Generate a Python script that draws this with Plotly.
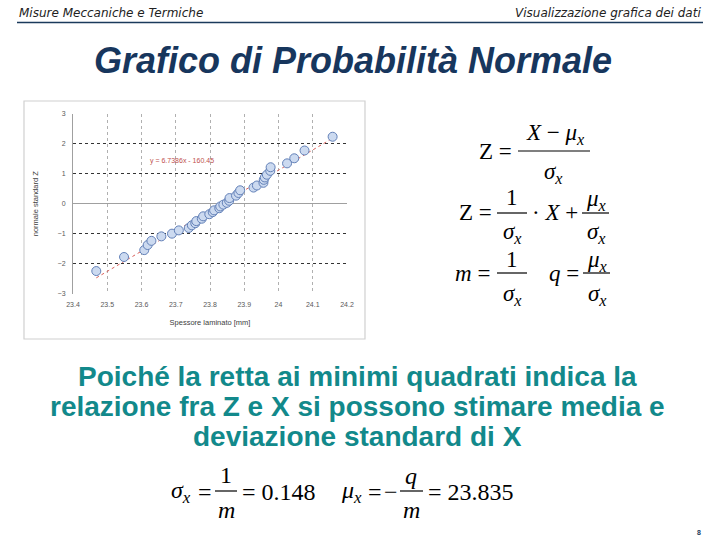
import numpy as np
import plotly.graph_objects as go

# ---- data ----
spessore = [23.468, 23.549, 23.608, 23.618, 23.629, 23.658, 23.689, 23.709, 23.738, 23.747,
            23.757, 23.760, 23.776, 23.780, 23.798, 23.808, 23.812, 23.827, 23.830, 23.839,
            23.849, 23.856, 23.857, 23.876, 23.883, 23.888, 23.927, 23.937, 23.956, 23.957,
            23.960, 23.966, 23.976, 23.977, 24.025, 24.046, 24.076, 24.158]
z_norm = [-2.25, -1.78, -1.55, -1.38, -1.24, -1.09, -1.00, -0.89, -0.81, -0.72,
          -0.65, -0.58, -0.50, -0.42, -0.35, -0.28, -0.22, -0.15, -0.09, -0.03,
          0.03, 0.10, 0.19, 0.27, 0.36, 0.45, 0.54, 0.61, 0.70, 0.80,
          0.88, 0.97, 1.10, 1.22, 1.35, 1.52, 1.78, 2.24]
x_ticks = [23.4, 23.5, 23.6, 23.7, 23.8, 23.9, 24.0, 24.1, 24.2]
x_ticklabels = ["23.4", "23.5", "23.6", "23.7", "23.8", "23.9", "24", "24.1", "24.2"]
y_ticks = [-3, -2, -1, 0, 1, 2, 3]
equation_text = "y = 6.7386x - 160.45"
body_lines = ["Poiché la retta ai minimi quadrati indica la",
              "relazione fra Z e X si possono stimare media e",
              "deviazione standard di X"]

W, H = 720, 540
def px(x): return x / W
def py(y): return 1 - y / H

NAVY = "#1b3a5c"
TEAL = "#12898b"

fig = go.Figure()

# regression line from data
m_fit, q_fit = np.polyfit(spessore, z_norm, 1)
xl = np.array([min(spessore), max(spessore)])
fig.add_trace(go.Scatter(x=xl, y=m_fit * xl + q_fit, mode="lines",
                         line=dict(color="#d9605a", width=1, dash="dot"),
                         hoverinfo="skip", showlegend=False))
fig.add_trace(go.Scatter(x=spessore, y=z_norm, mode="markers",
                         marker=dict(size=9, color="#ccdaf0",
                                     line=dict(color="#6381b8", width=1)),
                         showlegend=False))

fig.update_layout(
    width=W, height=H, margin=dict(l=0, r=0, t=0, b=0, autoexpand=False),
    paper_bgcolor="white", plot_bgcolor="white",
    xaxis=dict(domain=[px(73), px(347)], range=[23.4, 24.2], automargin=False,
               tickvals=x_ticks, ticktext=x_ticklabels, ticklabelstandoff=5,
               showgrid=True, gridcolor="#b0b0b0", griddash="dot", gridwidth=1,
               zeroline=False, showline=False, ticks="",
               tickfont=dict(family="Liberation Sans", size=7, color="#595959"),
               title=dict(text="Spessore laminato [mm]", standoff=13,
                          font=dict(family="Liberation Sans", size=7.5, color="#404040"))),
    yaxis=dict(domain=[py(293.5), py(114)], range=[-3, 3], tickvals=y_ticks, automargin=False,
               ticklabelstandoff=5,
               showgrid=True, gridcolor="#333333", griddash="dot", gridwidth=1,
               zeroline=True, zerolinecolor="#a0a0a0", zerolinewidth=1,
               showline=True, linecolor="#a0a0a0", linewidth=1, ticks="",
               tickfont=dict(family="Liberation Sans", size=7, color="#595959"),
               title=dict(text="normale standard Z", standoff=17,
                          font=dict(family="Liberation Sans", size=7.5, color="#404040"))),
)

annotations = []
shapes = []

def note(x, y, s, family, size, color, anchor="center"):
    annotations.append(dict(x=px(x), y=py(y), xref="paper", yref="paper", text=s,
                            showarrow=False, xanchor=anchor, yanchor="middle",
                            font=dict(family=family, size=size, color=color)))

# equation label in chart
annotations.append(dict(x=23.62, y=1.42, xref="x", yref="y", text=equation_text,
                        showarrow=False, xanchor="left", yanchor="middle",
                        font=dict(family="Liberation Sans", size=7, color="#c0504d")))

# chart image border
shapes.append(dict(type="rect", xref="paper", yref="paper", x0=px(24), x1=px(365),
                   y0=py(339), y1=py(101), line=dict(color="#d0d0d0", width=1.2)))

# header
note(17, 13, "<i>Misure Meccaniche e Termiche</i>", "DejaVu Sans", 12, "#222", "left")
note(703, 13, "<i>Visualizzazione grafica dei dati</i>", "DejaVu Sans", 12, "#222", "right")
shapes.append(dict(type="line", xref="paper", yref="paper", x0=px(17), x1=px(703),
                   y0=py(22.5), y1=py(22.5), line=dict(color=NAVY, width=1.5)))

# title
note(353, 60, "<b><i>Grafico di Probabilità Normale</i></b>", "Liberation Sans", 36, "#17365d")

# body text
for i, line in enumerate(body_lines):
    note(357, 376 + 30 * i, "<b>" + line + "</b>", "Liberation Sans", 28, TEAL)

# page number
note(699, 532, "<b>8</b>", "Liberation Sans", 7, NAVY)

# math helpers
SERIF = "Liberation Serif"
def txt(x, y, s, size=23, anchor="center"):
    note(x, y, s, SERIF, size, "black", anchor)

def bar(x0, x1, y):
    shapes.append(dict(type="line", xref="paper", yref="paper", x0=px(x0), x1=px(x1),
                       y0=py(y), y1=py(y), line=dict(color="black", width=1.2)))

SIG = "<i>σ</i><sub><i>x</i></sub>"
MU = "<i>μ</i><sub><i>x</i></sub>"

# line 1: Z = (X - mu)/sigma
txt(495, 152, "Z =")
bar(518, 590, 151)
txt(555, 134, "<i>X</i> − " + MU)
txt(553, 173, SIG)

# line 2: Z = 1/sigma * X + mu/sigma
txt(475, 213, "Z =")
bar(497, 527, 213)
txt(512, 197, "1")
txt(512, 233, SIG)
txt(555, 213, "· <i>X</i> +")
bar(582, 609, 213)
txt(596, 200, MU)
txt(596, 233, SIG)

# line 3: m = 1/sigma   q = mu/sigma
txt(472, 273, "<i>m</i> =")
bar(497, 527, 273)
txt(512, 259, "1")
txt(512, 295, SIG)
txt(564, 273, "<i>q</i> =")
bar(583, 610, 273)
txt(597, 261, MU)
txt(597, 295, SIG)

# bottom: sigma = 1/m = 0.148   mu = -q/m = 23.835
BS = 24
txt(181, 492, SIG, BS)
txt(205, 492, "=", BS)
bar(215, 237, 491)
txt(226, 475, "1", BS)
txt(226, 510, "<i>m</i>", BS)
txt(279, 492, "= 0.148", BS)
txt(351, 492, MU, BS)
txt(375, 492, "=", BS)
txt(391, 492, "−", BS)
bar(400, 423, 491)
txt(411, 476, "<i>q</i>", BS)
txt(411, 510, "<i>m</i>", BS)
txt(471, 492, "= 23.835", BS)

fig.update_layout(annotations=annotations, shapes=shapes)
fig.write_html("out.html", config={"displayModeBar": False},
               post_script="document.body.style.margin='0';document.body.style.overflow='hidden';")
